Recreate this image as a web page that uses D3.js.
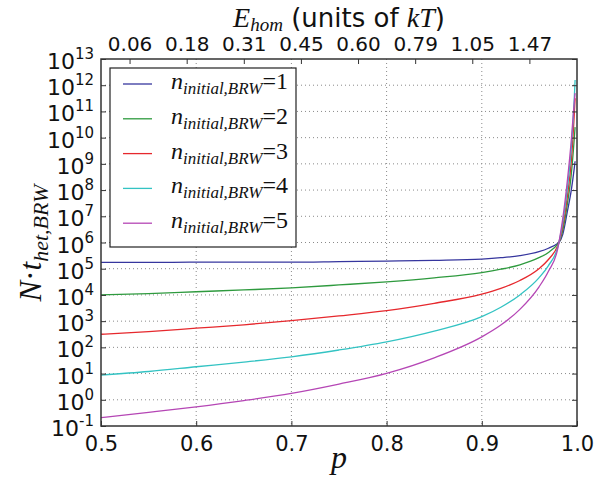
<!DOCTYPE html>
<html>
<head>
<meta charset="utf-8">
<script src="https://cdn.jsdelivr.net/npm/d3@7"></script>
<style>
  html, body { margin: 0; padding: 0; background: #fff; }
  svg { display: block; }
  .tick text { font-family: "DejaVu Sans", sans-serif; fill: #111; }
</style>
</head>
<body>
<svg id="chart" width="600" height="477"></svg>
<script>
// ---------------- data ----------------
const pValues = [0.5, 0.55, 0.6, 0.65, 0.7, 0.75, 0.8, 0.85, 0.9, 0.92, 0.94, 0.96, 0.97, 0.98, 0.981, 0.985, 0.99, 0.994, 0.997, 0.998];
const series1 = [1.74e5, 1.74e5, 1.78e5, 1.78e5, 1.78e5, 1.86e5, 1.95e5, 2.09e5, 2.34e5, 2.63e5, 3.16e5, 4.47e5, 6.03e5, 9.33e5, 1.0e6, 2.0e6, 1.6e7, 1.0e8, 6.3e8, 1.26e9];
const series2 = [1.0e4, 1.12e4, 1.32e4, 1.55e4, 1.86e4, 2.4e4, 3.16e4, 4.47e4, 7.08e4, 9.55e4, 1.41e5, 2.63e5, 4.17e5, 8.91e5, 1.0e6, 2.82e6, 3.16e7, 3.98e8, 7.94e9, 2.51e10];
const series3 = [316, 398, 537, 724, 1047, 1585, 2512, 4786, 1.07e4, 1.78e4, 3.55e4, 1.0e5, 2.24e5, 7.94e5, 1.0e6, 3.98e6, 6.31e7, 1.26e9, 6.31e10, 3.16e11];
const series4 = [8.7, 12.0, 18.2, 27.5, 43.7, 79.4, 162, 417, 1479, 3388, 1.0e4, 4.47e4, 1.32e5, 7.08e5, 1.0e6, 5.62e6, 1.26e8, 3.98e9, 2.51e11, 1.58e12];
const series5 = [0.209, 0.331, 0.537, 0.933, 1.76, 3.98, 10.2, 39.8, 251, 708, 2818, 2.0e4, 7.94e4, 6.31e5, 1.0e6, 7.94e6, 2.51e8, 7.94e9, 2.0e11, 5.01e11];
const seriesNames = ["1", "2", "3", "4", "5"];
const xTicks = [0.5, 0.6, 0.7, 0.8, 0.9, 1.0];
const yTickExponents = [-1, 0, 1, 2, 3, 4, 5, 6, 7, 8, 9, 10, 11, 12, 13];
const eTickP = [0.53, 0.59, 0.65, 0.71, 0.77, 0.83, 0.89, 0.95];
const eTickLabels = ["0.06", "0.18", "0.31", "0.45", "0.60", "0.79", "1.05", "1.47"];

// ---------------- layout ----------------
const colors = ["#36369e", "#2e9a3e", "#e6282d", "#33c3c3", "#b546b5"];
const allSeries = [series1, series2, series3, series4, series5];
const L = 101, R = 577, T = 59, B = 426;

const svg = d3.select("#chart");
const x = d3.scaleLinear().domain([0.5, 1.0]).range([L, R]);
const y = d3.scaleLog().domain([1e-1, 1e13]).range([B, T]);

// grid
const grid = svg.append("g").attr("stroke", "#8a8a8a").attr("stroke-width", 1).attr("stroke-dasharray", "1,3");
grid.selectAll("line.gx").data(xTicks.slice(1, -1)).enter().append("line")
  .attr("x1", d => x(d)).attr("x2", d => x(d)).attr("y1", T).attr("y2", B);
grid.selectAll("line.gy").data(yTickExponents.slice(1, -1)).enter().append("line")
  .attr("y1", d => y(Math.pow(10, d))).attr("y2", d => y(Math.pow(10, d))).attr("x1", L).attr("x2", R);

// curves
const line = d3.line().x(d => x(d[0])).y(d => y(d[1])).curve(d3.curveMonotoneX);
svg.append("clipPath").attr("id", "clip").append("rect")
  .attr("x", L).attr("y", T).attr("width", R - L).attr("height", B - T);
const curves = svg.append("g").attr("clip-path", "url(#clip)");
allSeries.forEach((s, i) => {
  curves.append("path")
    .datum(pValues.map((p, j) => [p, s[j]]))
    .attr("d", line).attr("fill", "none")
    .attr("stroke", colors[i]).attr("stroke-width", 1.3);
});

// axes
const bottom = svg.append("g").attr("transform", `translate(0,${B})`)
  .call(d3.axisBottom(x).tickValues(xTicks).tickFormat(d3.format(".1f")).tickSize(-5).tickPadding(10));
bottom.selectAll("text").attr("font-size", 21).attr("dy", "0.71em");
const topTicks = svg.append("g").attr("transform", `translate(0,${T})`)
  .call(d3.axisTop(x).tickValues(eTickP).tickFormat((d, i) => eTickLabels[i]).tickSize(-5).tickPadding(8));
topTicks.selectAll("text").attr("font-size", 20);
const left = svg.append("g").attr("transform", `translate(${L},0)`)
  .call(d3.axisLeft(y).tickValues(yTickExponents.map(e => Math.pow(10, e))).tickFormat("").tickSize(-5));
const right = svg.append("g").attr("transform", `translate(${R},0)`)
  .call(d3.axisRight(y).tickValues(yTickExponents.map(e => Math.pow(10, e))).tickFormat("").tickSize(-5));
[bottom, topTicks, left, right].forEach(g => {
  g.select(".domain").remove();
  g.selectAll("line").attr("stroke", "#333").attr("stroke-width", 1);
});

// y tick labels with superscripts
const ylab = svg.append("g").attr("font-family", "DejaVu Sans, sans-serif").attr("fill", "#111");
yTickExponents.forEach(e => {
  const t = ylab.append("text").attr("x", 94).attr("y", y(Math.pow(10, e)) + 10)
    .attr("text-anchor", "end").attr("font-size", 22);
  t.append("tspan").text("10");
  t.append("tspan").attr("font-size", 15).attr("dy", -10).text(e < 0 ? "-" + Math.abs(e) : String(e));
});

// frame
svg.append("rect").attr("x", L).attr("y", T).attr("width", R - L).attr("height", B - T)
  .attr("fill", "none").attr("stroke", "#333").attr("stroke-width", 1.5);

// axis titles
const serif = "Liberation Serif, DejaVu Serif, serif";
svg.append("text").attr("x", (L + R) / 2).attr("y", 468).attr("text-anchor", "middle")
  .attr("font-family", serif).attr("font-style", "italic").attr("font-size", 32).attr("fill", "#111").text("p");

const yt = svg.append("text").attr("transform", "translate(41,243) rotate(-90)")
  .attr("text-anchor", "middle").attr("font-family", serif).attr("font-size", 31).attr("fill", "#111");
yt.append("tspan").attr("font-style", "italic").text("N");
yt.append("tspan").text("·");
yt.append("tspan").attr("font-style", "italic").text("t");
yt.append("tspan").attr("font-style", "italic").attr("font-size", 22).attr("dy", 7).text("het,BRW");

const tt = svg.append("text").attr("x", (L + R) / 2).attr("y", 27).attr("text-anchor", "middle")
  .attr("font-size", 26).attr("fill", "#111");
tt.append("tspan").attr("font-family", serif).attr("font-style", "italic").attr("font-size", 28).text("E");
tt.append("tspan").attr("font-family", serif).attr("font-style", "italic").attr("font-size", 19).attr("dy", 4).text("hom");
tt.append("tspan").attr("font-family", "DejaVu Sans, sans-serif").attr("dy", -4).text(" (units of ");
tt.append("tspan").attr("font-family", serif).attr("font-style", "italic").attr("font-size", 28).text("kT");
tt.append("tspan").attr("font-family", "DejaVu Sans, sans-serif").text(")");

// legend
const lg = svg.append("g");
lg.append("rect").attr("x", 110).attr("y", 68).attr("width", 186).attr("height", 179)
  .attr("fill", "#fff").attr("stroke", "#222").attr("stroke-width", 1.2);
seriesNames.forEach((n, i) => {
  const cy = 84 + i * 34.8;
  lg.append("line").attr("x1", 123).attr("x2", 152).attr("y1", cy).attr("y2", cy)
    .attr("stroke", colors[i]).attr("stroke-width", 1.3);
  const t = lg.append("text").attr("x", 171).attr("y", cy + 5).attr("font-family", serif)
    .attr("font-size", 24).attr("fill", "#111");
  t.append("tspan").attr("font-style", "italic").text("n");
  t.append("tspan").attr("font-style", "italic").attr("font-size", 17).attr("dy", 5).text("initial,BRW");
  t.append("tspan").attr("dy", -5).text("=" + n);
});
</script>
</body>
</html>
